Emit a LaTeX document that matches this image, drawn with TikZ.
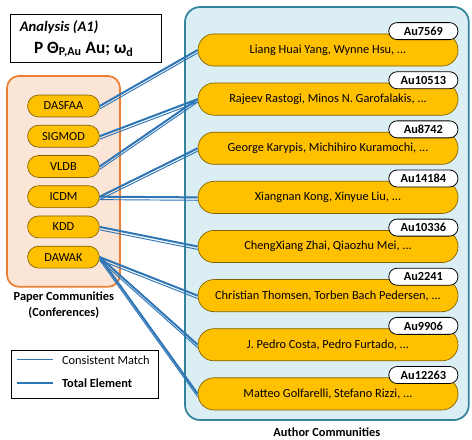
\documentclass[tikz,border=0pt]{standalone}
\usepackage{fontspec}
\setmainfont{Carlito}
\usepackage{tikz}
\usepackage{xcolor}
\usetikzlibrary{positioning}
\definecolor{commyellow}{RGB}{255,192,0}
\definecolor{commedge}{RGB}{127,96,0}
\definecolor{paperfill}{RGB}{251,229,214}
\definecolor{paperedge}{RGB}{237,125,49}
\definecolor{authfill}{RGB}{218,238,243}
\definecolor{authedge}{RGB}{49,132,155}
\definecolor{linkblue}{RGB}{46,117,182}

\begin{document}
\begin{tikzpicture}[node distance=0.8cm, auto, font=\fontsize{9.3}{11.5}\selectfont,
    conf/.style={draw=commedge, fill=commyellow, line width=0.5pt, rounded corners=0.29cm, minimum width=1.9cm, minimum height=0.58cm, inner sep=0pt, node distance=0.8cm},
    author/.style={draw=commedge, fill=commyellow, line width=0.5pt, rounded corners=0.42cm, minimum width=6.88cm, minimum height=0.85cm, inner sep=0pt, node distance=1.3cm},
    tag/.style={draw, fill=white, line width=0.6pt, rounded corners=0.22cm, minimum width=1.83cm, minimum height=0.45cm, inner sep=0pt, anchor=east, font=\fontsize{9.3}{11}\selectfont\bfseries},
    total/.style={draw=linkblue, line width=1.5pt},
    match/.style={draw=linkblue, line width=0.7pt, transform canvas={yshift=-2.2pt}}]
        \useasboundingbox (0,0) rectangle (12.49,-11.64);

        % Analysis box
        \node [draw, line width=0.7pt, minimum width=4.02cm, minimum height=1.27cm] (analysis) at (2.275,-1.005) {};
        \node [anchor=west, font=\fontsize{11}{13}\selectfont\bfseries\itshape] (atitle) at (0.40,-0.714) {Analysis (A1)};
        \node [font=\fontsize{13}{15}\selectfont\bfseries] (aformula) at (2.22,-1.32) {P Θ\textsubscript{P,Au} Au; ω\textsubscript{d}};

        % Paper communities
        \node [draw=paperedge, fill=paperfill, line width=1.3pt, rounded corners=0.32cm, minimum width=2.99cm, minimum height=5.58cm] (papers) at (1.68,-4.80) {};
        \node [conf] (dasfaa) at (1.68,-2.805) {DASFAA};
        \node [conf, below of=dasfaa] (sigmod) {SIGMOD};
        \node [conf, below of=sigmod] (vldb) {VLDB};
        \node [conf, below of=vldb] (icdm) {ICDM};
        \node [conf, below of=icdm] (kdd) {KDD};
        \node [conf, below of=kdd] (dawak) {DAWAK};
        \node [align=center, font=\fontsize{9.3}{12}\selectfont\bfseries] (paperlabel) at (1.69,-8.07) {Paper Communities\\(Conferences)};

        % Author communities
        \node [draw=authedge, fill=authfill, line width=1.3pt, rounded corners=0.4cm, minimum width=7.51cm, minimum height=10.93cm] (authors) at (8.65,-5.65) {};
        \node [author] (a7569) at (8.68,-1.323) {Liang Huai Yang, Wynne Hsu, ...};
        \node [author, below of=a7569] (a10513) {Rajeev Rastogi, Minos N. Garofalakis, ...};
        \node [author, below of=a10513] (a8742) {George Karypis, Michihiro Kuramochi, ...};
        \node [author, below of=a8742] (a14184) {Xiangnan Kong, Xinyue Liu, ...};
        \node [author, below of=a14184] (a10336) {ChengXiang Zhai, Qiaozhu Mei, ...};
        \node [author, below of=a10336] (a2241) {Christian Thomsen, Torben Bach Pedersen, ...};
        \node [author, below of=a2241] (a9906) {J. Pedro Costa, Pedro Furtado, ...};
        \node [author, below of=a9906] (a12263) {Matteo Golfarelli, Stefano Rizzi, ...};
        \node [font=\fontsize{9.3}{11}\selectfont\bfseries] (authlabel) at (8.65,-11.43) {Author Communities};

        % Tags
        \node [tag] (t7569) at ([yshift=0.066cm]a7569.north east) {Au7569};
        \node [tag] (t10513) at ([yshift=0.066cm]a10513.north east) {Au10513};
        \node [tag] (t8742) at ([yshift=0.066cm]a8742.north east) {Au8742};
        \node [tag] (t14184) at ([yshift=0.066cm]a14184.north east) {Au14184};
        \node [tag] (t10336) at ([yshift=0.066cm]a10336.north east) {Au10336};
        \node [tag] (t2241) at ([yshift=0.066cm]a2241.north east) {Au2241};
        \node [tag] (t9906) at ([yshift=0.066cm]a9906.north east) {Au9906};
        \node [tag] (t12263) at ([yshift=0.066cm]a12263.north east) {Au12263};

        % Links
        \draw [total] (dasfaa.east) -- (a7569.west);
        \draw [match] (dasfaa.east) -- (a7569.west);
        \draw [total] (sigmod.east) -- (a10513.west);
        \draw [match] (sigmod.east) -- (a10513.west);
        \draw [total] (vldb.east) -- (a10513.west);
        \draw [match] (vldb.east) -- (a10513.west);
        \draw [total] (icdm.east) -- (a8742.west);
        \draw [match] (icdm.east) -- (a8742.west);
        \draw [total] (icdm.east) -- (a14184.west);
        \draw [match] (icdm.east) -- (a14184.west);
        \draw [total] (kdd.east) -- (a10336.west);
        \draw [match] (kdd.east) -- (a10336.west);
        \draw [total] (dawak.east) -- (a2241.west);
        \draw [match] (dawak.east) -- (a2241.west);
        \draw [total] (dawak.east) -- (a9906.west);
        \draw [match] (dawak.east) -- (a9906.west);
        \draw [total] (dawak.east) -- (a12263.west);
        \draw [match] (dawak.east) -- (a12263.west);

        % Legend
        \node [draw, line width=0.7pt, minimum width=3.89cm, minimum height=1.27cm] (legend) at (2.26,-9.90) {};
        \coordinate (cmstart) at (0.45,-9.525);
        \coordinate (cmend) at (1.40,-9.525);
        \coordinate (testart) at (0.45,-10.13);
        \coordinate (teend) at (1.40,-10.13);
        \draw [draw=linkblue, line width=0.8pt] (cmstart) -- (cmend);
        \draw [total] (testart) -- (teend);
        \node [anchor=west] (cmtext) at (1.52,-9.525) {Consistent Match};
        \node [anchor=west, font=\fontsize{9.3}{11}\selectfont\bfseries] (tetext) at (1.52,-10.13) {Total Element};
    \end{tikzpicture}
\end{document}
